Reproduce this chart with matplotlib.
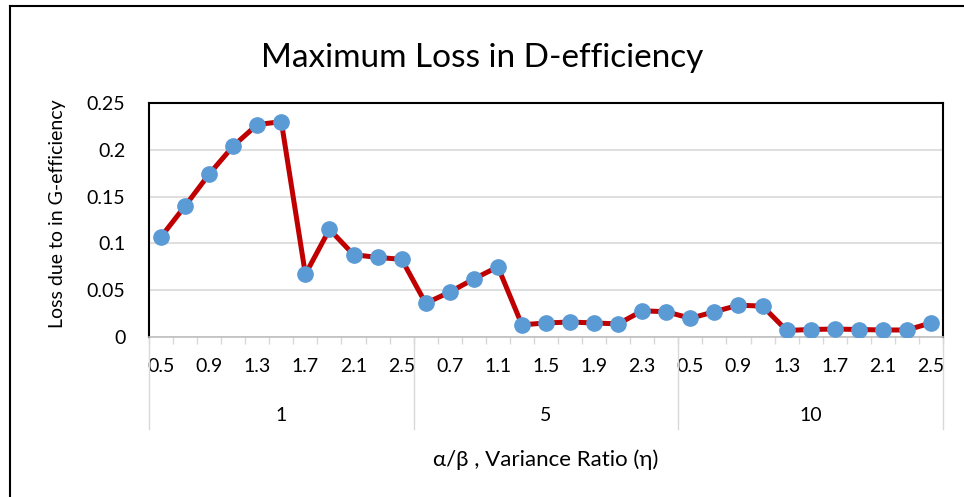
import matplotlib.pyplot as plt
from matplotlib.lines import Line2D

plt.rcParams['font.family'] = ['Lato', 'DejaVu Sans']

# data
groups = ['1', '5', '10']
ratios = ['0.5', '0.7', '0.9', '1.1', '1.3', '1.5', '1.7', '1.9', '2.1', '2.3', '2.5']
loss_1 = [0.107, 0.140, 0.174, 0.204, 0.227, 0.230, 0.067, 0.115, 0.088, 0.085, 0.083]
loss_5 = [0.036, 0.048, 0.062, 0.075, 0.013, 0.015, 0.016, 0.015, 0.014, 0.028, 0.027]
loss_10 = [0.020, 0.027, 0.034, 0.033, 0.007, 0.008, 0.0085, 0.008, 0.0075, 0.0075, 0.015]

values = loss_1 + loss_5 + loss_10
labels = ratios * len(groups)
n = len(values)
x = list(range(n))

W, H = 964, 497
fig = plt.figure(figsize=(W / 100, H / 100), dpi=100)
ax = fig.add_axes([149 / W, 1 - 337 / H, 794 / W, 234 / H])

ax.plot(x, values, color='#C00000', lw=3.6, marker='o', ms=11,
        mfc='#5B9BD5', mec='#5B9BD5', zorder=3)

ax.set_xlim(-0.5, n - 0.5)
ax.set_ylim(0, 0.25)
ax.set_yticks([0, 0.05, 0.1, 0.15, 0.2, 0.25])
ax.set_yticklabels(['0', '0.05', '0.1', '0.15', '0.2', '0.25'])
ax.yaxis.grid(True, color='#D9D9D9', lw=1.2)
ax.set_axisbelow(True)
ax.tick_params(axis='y', length=0, labelsize=14, pad=17)

# category labels, every other one
ax.set_xticks(x[::2])
ax.set_xticklabels(labels[::2])
ax.tick_params(axis='x', length=0, labelsize=14, pad=15)
ax.set_xticks([i - 0.5 for i in range(n + 1)], minor=True)
ax.tick_params(axis='x', which='minor', length=5, color='#D9D9D9', width=1)

for s in ['left', 'top', 'right']:
    ax.spines[s].set_color('black')
    ax.spines[s].set_linewidth(1.5)
ax.spines['bottom'].set_color('#BFBFBF')
ax.spines['bottom'].set_linewidth(1.2)

# group separators and labels
trans = ax.get_xaxis_transform()
k = len(ratios)
for g in range(len(groups) + 1):
    xs = g * k - 0.5
    ax.plot([xs, xs], [0, -0.393], color='#D9D9D9', lw=1, transform=trans, clip_on=False)
for g, name in enumerate(groups):
    ax.text(g * k + (k - 1) / 2, -0.335, name, transform=trans,
            ha='center', va='center', fontsize=14)

fig.text(0.5, 1 - 67 / H, 'Maximum Loss in D-efficiency', ha='center', va='baseline',
         fontsize=24)
fig.text(546 / W, 1 - 466 / H, 'α/β , Variance Ratio (η)', ha='center', va='baseline',
         fontsize=16)
fig.text(57 / W, 1 - 214 / H, 'Loss due to in G-efficiency', ha='center', va='center',
         rotation=90, fontsize=14)

# outer frame (only left and top edges fall inside the picture)
fig.add_artist(Line2D([9.5 / W, 9.5 / W], [0, 1 - 5.5 / H], color='black', lw=1.5,
                      transform=fig.transFigure))
fig.add_artist(Line2D([9.5 / W, 1], [1 - 5.5 / H, 1 - 5.5 / H], color='black', lw=1.5,
                      transform=fig.transFigure))

fig.savefig('out.png', dpi=100)
